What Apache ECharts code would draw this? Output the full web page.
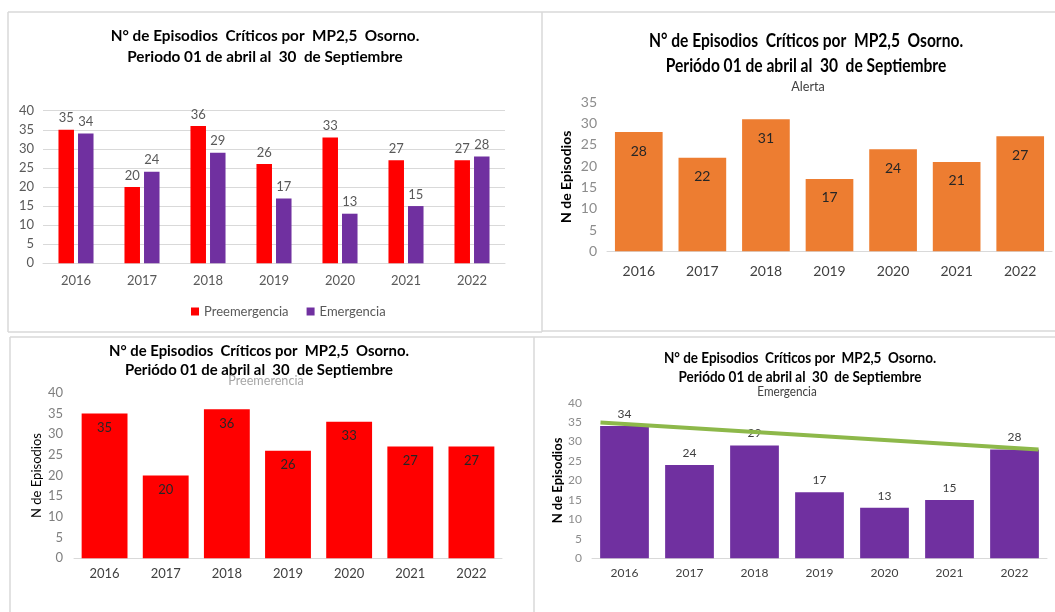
<!DOCTYPE html>
<html>
<head>
<meta charset="utf-8">
<script src="https://cdn.jsdelivr.net/npm/echarts@6/dist/echarts.min.js"></script>
<style>
  html, body { margin: 0; padding: 0; background: #fff; }
  #chart { width: 1055px; height: 612px; }
</style>
</head>
<body>
<div id="chart"></div>
<script>
var years = ['2016', '2017', '2018', '2019', '2020', '2021', '2022'];
var preemergencia = [35, 20, 36, 26, 33, 27, 27];
var emergencia = [34, 24, 29, 17, 13, 15, 28];
var alerta = [28, 22, 31, 17, 24, 21, 27];
// linea verde dibujada sobre el grafico de emergencia (indice de categoria, valor)
var trendX = [-0.37, 6.37];
var trendY = [34.9, 28.0];

var FONT = 'Lato, "Open Sans", sans-serif';
var titulo1 = 'N° de Episodios  Críticos por  MP2,5  Osorno.';
var titulo2a = 'Periodo 01 de abril al  30  de Septiembre';
var titulo2b = 'Periódo 01 de abril al  30  de Septiembre';

function txt(x, y, text, size, weight, color, sx) {
  return {
    type: 'text', x: x, y: y, scaleX: sx || 1, z: 100,
    style: {
      text: text, fontSize: size, fontWeight: weight, fontFamily: FONT,
      fill: color, align: 'center', verticalAlign: 'middle'
    }
  };
}
function ln(x1, y1, x2, y2) {
  return {
    type: 'line', z: 50,
    shape: { x1: x1, y1: y1, x2: x2, y2: y2 },
    style: { stroke: '#d9d9d9', lineWidth: 1.5 }
  };
}

var chart = echarts.init(document.getElementById('chart'));

var trendData = trendX.map(function (x, i) { return [x, trendY[i]]; });

var option = {
  backgroundColor: '#fff',
  animation: false,
  textStyle: { fontFamily: FONT },
  graphic: [
    // marcos
    ln(8, 12, 1055, 12),
    ln(8, 12, 8, 332),
    ln(8, 332, 542, 332),
    ln(542, 12, 542, 332),
    ln(542, 331, 1055, 331),
    ln(10, 337, 1055, 337),
    ln(10, 337, 10, 612),
    ln(534, 337, 534, 612),
    // titulos
    txt(265, 36, titulo1, 15, 'bold', '#000', 1.02),
    txt(265, 57, titulo2a, 15, 'bold', '#000', 1.02),
    txt(806, 41, titulo1, 19, 'bold', '#000', 0.82),
    txt(806, 66, titulo2b, 19, 'bold', '#000', 0.82),
    txt(808, 86, 'Alerta', 14, 'normal', '#404040', 0.9),
    txt(259, 351, titulo1, 16, 'bold', '#000', 0.93),
    txt(259, 370, titulo2b, 16, 'bold', '#000', 0.93),
    txt(266, 380, 'Preemerencia', 14, 'normal', '#a6a6a6', 0.9),
    txt(800, 358, titulo1, 15, 'bold', '#000', 0.9),
    txt(800, 377, titulo2b, 15, 'bold', '#000', 0.9),
    txt(787, 392, 'Emergencia', 13, 'normal', '#404040', 0.9)
  ],
  legend: {
    data: ['Preemergencia', 'Emergencia'],
    left: 186, top: 300,
    icon: 'rect', itemWidth: 8, itemHeight: 8, itemGap: 18,
    textStyle: { fontSize: 13, color: '#595959', fontFamily: FONT }
  },
  grid: [
    { left: 43, right: 550, top: 110.7, bottom: 348.7 },
    { left: 607, right: 3, top: 102.3, bottom: 360.7 },
    { left: 74, right: 553, top: 392.7, bottom: 53.7 },
    { left: 592, right: 8, top: 402.7, bottom: 53.7 }
  ],
  xAxis: [
    {
      gridIndex: 0, type: 'category', data: years,
      axisTick: { show: false },
      axisLine: { lineStyle: { color: '#d9d9d9' } },
      axisLabel: { color: '#595959', fontSize: 13, margin: 11 }
    },
    {
      gridIndex: 1, type: 'category', data: years,
      axisTick: { show: false },
      axisLine: { lineStyle: { color: '#d9d9d9' } },
      axisLabel: { color: '#404040', fontSize: 14, margin: 13 }
    },
    {
      gridIndex: 2, type: 'category', data: years,
      axisTick: { show: false },
      axisLine: { lineStyle: { color: '#d9d9d9' } },
      axisLabel: { color: '#404040', fontSize: 13, margin: 9 }
    },
    {
      gridIndex: 3, type: 'category', data: years,
      axisTick: { show: false },
      axisLine: { lineStyle: { color: '#d9d9d9' } },
      axisLabel: { color: '#404040', fontSize: 12, margin: 9 }
    },
    {
      gridIndex: 3, type: 'value', min: -0.5, max: 6.5, show: false
    }
  ],
  yAxis: [
    {
      gridIndex: 0, type: 'value', min: 0, max: 40, interval: 5,
      axisLine: { show: false }, axisTick: { show: false },
      splitLine: { lineStyle: { color: '#d9d9d9' } },
      axisLabel: { color: '#595959', fontSize: 13, margin: 9 }
    },
    {
      gridIndex: 1, type: 'value', min: 0, max: 35, interval: 5,
      axisLine: { show: false }, axisTick: { show: false },
      splitLine: { show: false },
      axisLabel: { color: '#8c8c8c', fontSize: 14, margin: 10 },
      name: 'N de Episodios', nameLocation: 'middle', nameGap: 34,
      nameTextStyle: { color: '#000', fontSize: 14, fontWeight: 'bold' }
    },
    {
      gridIndex: 2, type: 'value', min: 0, max: 40, interval: 5,
      axisLine: { show: false }, axisTick: { show: false },
      splitLine: { show: false },
      axisLabel: { color: '#7f7f7f', fontSize: 13, margin: 11 },
      name: 'N de Episodios', nameLocation: 'middle', nameGap: 31,
      nameTextStyle: { color: '#000', fontSize: 13 }
    },
    {
      gridIndex: 3, type: 'value', min: 0, max: 40, interval: 5,
      axisLine: { show: false }, axisTick: { show: false },
      splitLine: { show: false },
      axisLabel: { color: '#8c8c8c', fontSize: 12, margin: 10 },
      name: 'N de Episodios', nameLocation: 'middle', nameGap: 28,
      nameTextStyle: { color: '#000', fontSize: 13, fontWeight: 'bold' }
    }
  ],
  series: [
    {
      name: 'Preemergencia', type: 'bar', xAxisIndex: 0, yAxisIndex: 0,
      data: preemergencia, barWidth: '23.5%', barGap: '26%',
      itemStyle: { color: '#ff0000' },
      label: { show: true, position: 'top', distance: 5, color: '#595959', fontSize: 13 }
    },
    {
      name: 'Emergencia', type: 'bar', xAxisIndex: 0, yAxisIndex: 0,
      data: emergencia, barWidth: '23.5%', barGap: '26%',
      itemStyle: { color: '#7030a0' },
      label: { show: true, position: 'top', distance: 5, color: '#595959', fontSize: 13 }
    },
    {
      name: 'Alerta', type: 'bar', xAxisIndex: 1, yAxisIndex: 1,
      data: alerta, barWidth: '75%',
      itemStyle: { color: '#ed7d31' },
      label: { show: true, position: 'insideTop', distance: 12, color: '#262626', fontSize: 14 }
    },
    {
      name: 'Preemerencia', type: 'bar', xAxisIndex: 2, yAxisIndex: 2,
      data: preemergencia, barWidth: '75%',
      itemStyle: { color: '#ff0000' },
      label: { show: true, position: 'insideTop', distance: 8, color: '#262626', fontSize: 13 }
    },
    {
      name: 'Emergencia (total)', type: 'bar', xAxisIndex: 3, yAxisIndex: 3,
      data: emergencia, barWidth: '75%',
      itemStyle: { color: '#7030a0' },
      label: { show: true, position: 'top', distance: 6, color: '#404040', fontSize: 12 }
    },
    {
      name: 'Tendencia', type: 'line', xAxisIndex: 4, yAxisIndex: 3,
      data: trendData, symbol: 'none', z: 10,
      lineStyle: { color: '#8db84a', width: 4 }
    }
  ]
};

chart.setOption(option);
</script>
</body>
</html>
